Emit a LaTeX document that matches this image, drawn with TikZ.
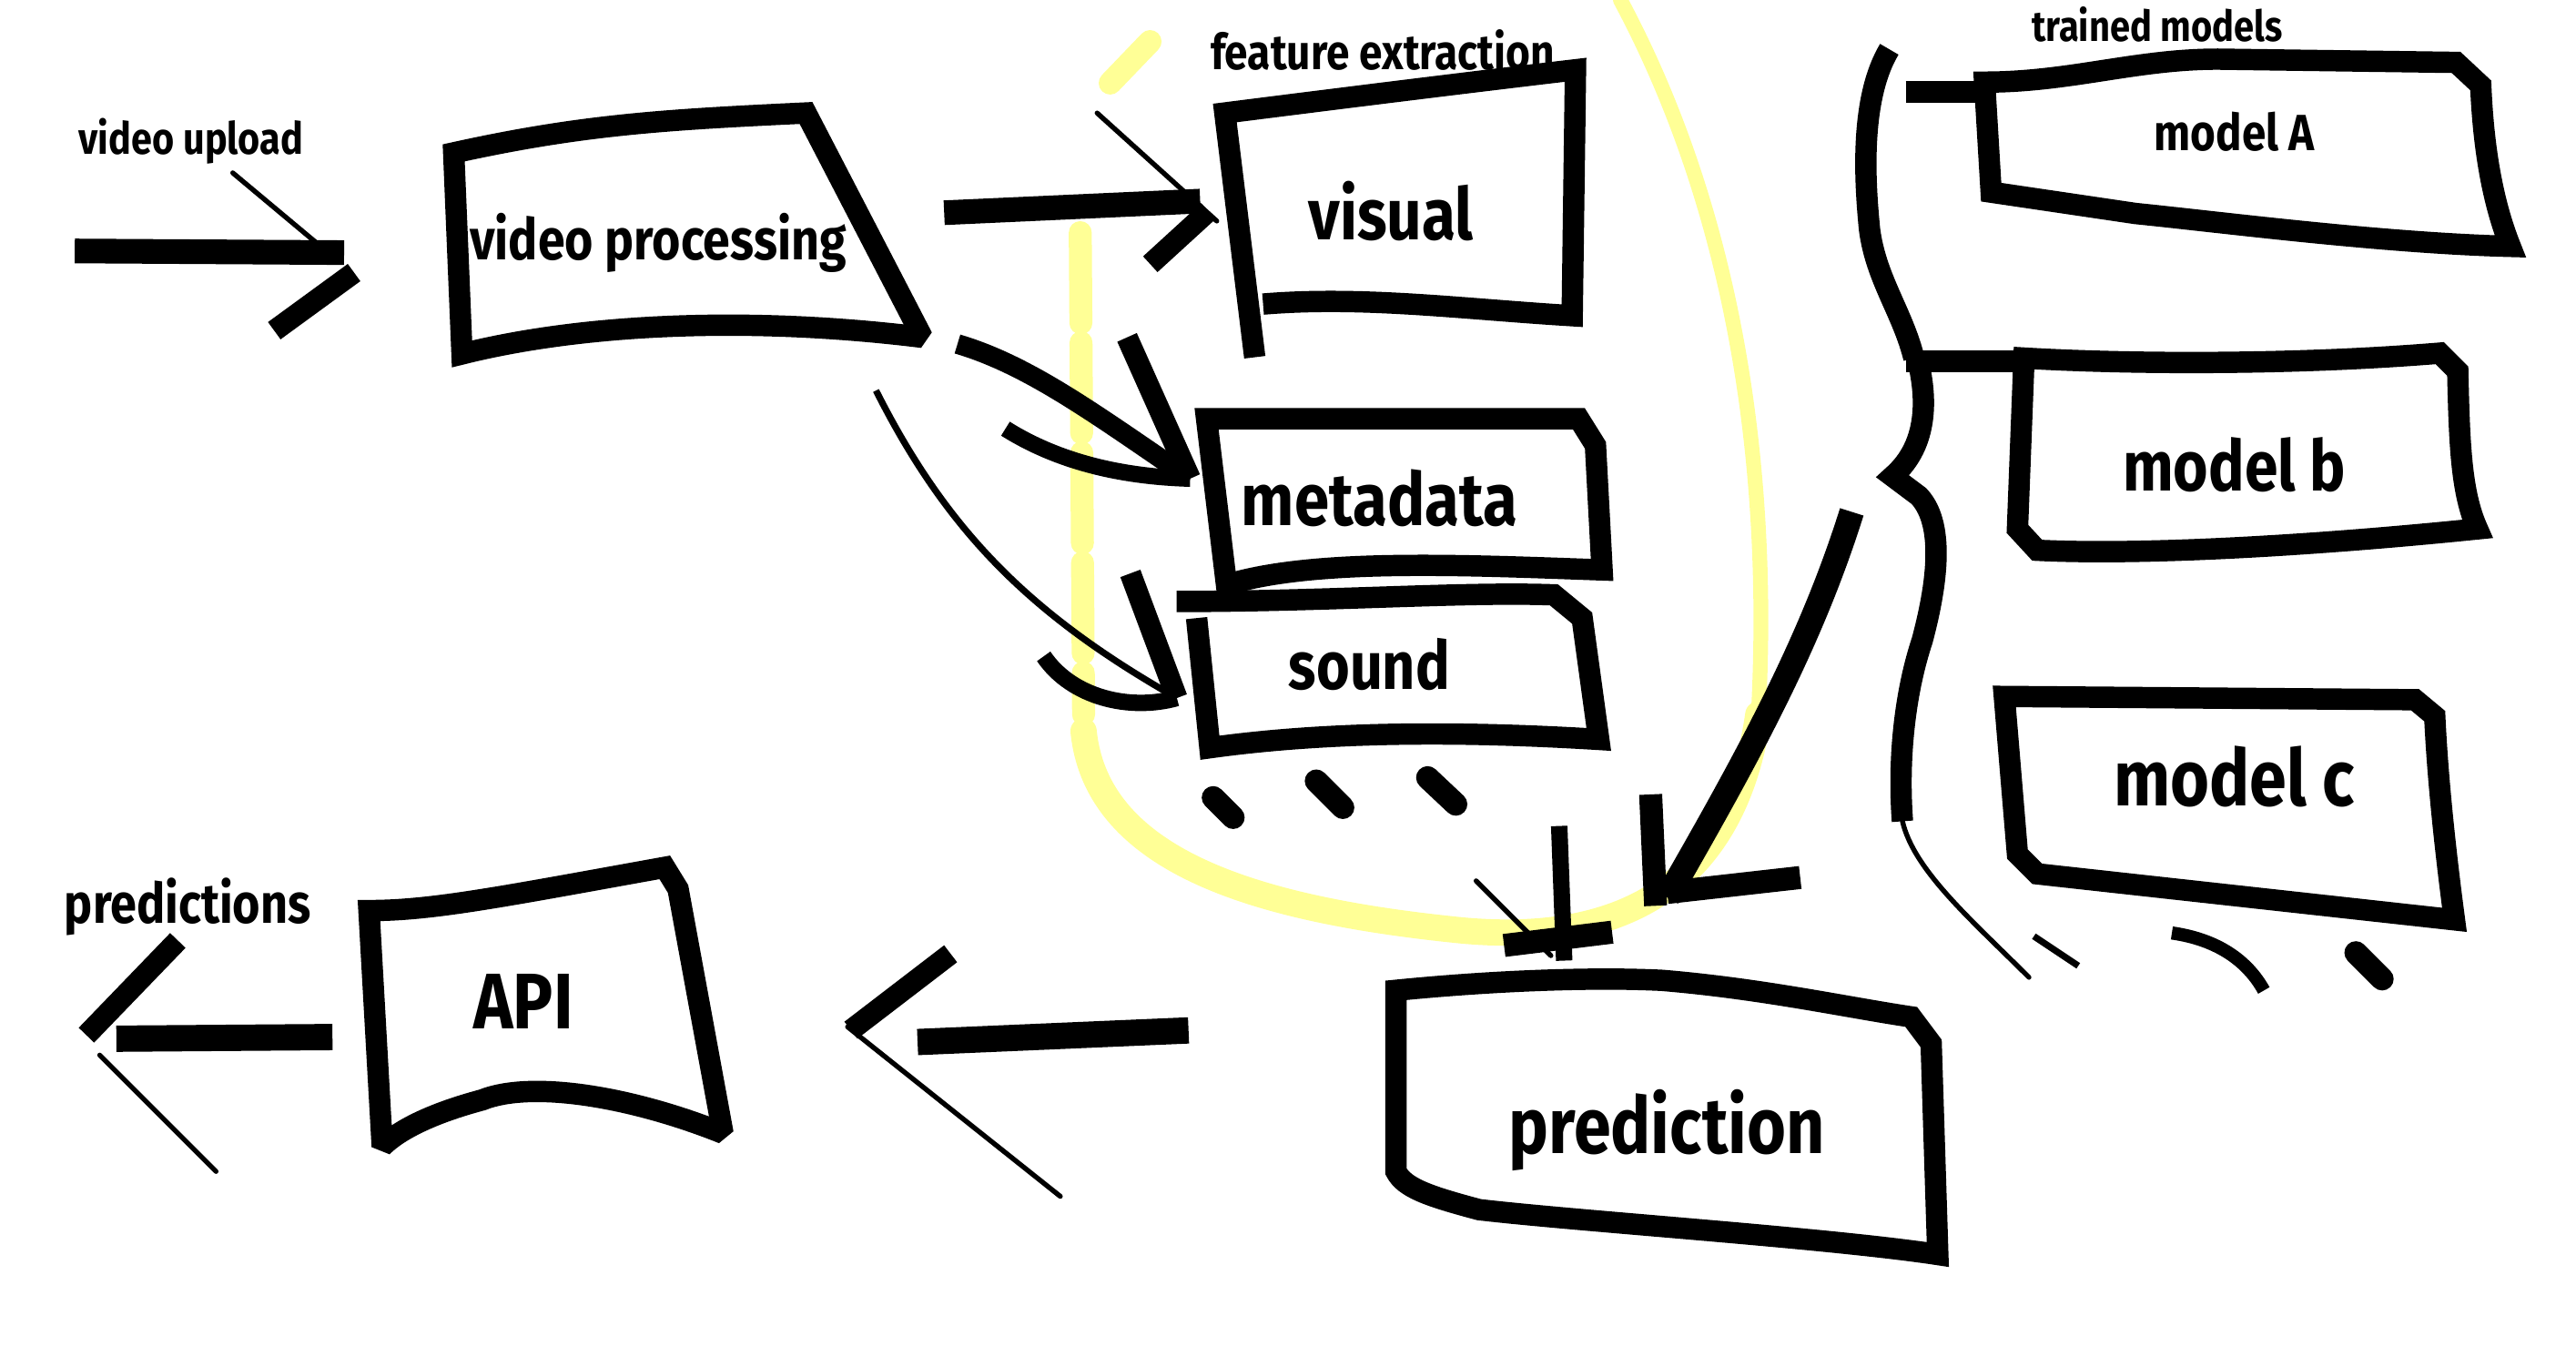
\documentclass[tikz,border=0pt]{standalone}
\usepackage{fontspec}
\setmainfont{Fira Sans}[FakeStretch=0.85]
\usetikzlibrary{calc}
\definecolor{highlight}{RGB}{255,255,150}
\tikzset{
  ink/.style={line width=13pt, line join=miter, miter limit=2},
  shaft/.style={line width=15pt},
  barb/.style={line width=13pt},
  hair/.style={line width=3pt, line cap=round},
  marker/.style={highlight, line width=14pt, line cap=round},
}
\newcommand{\namebox}[5]{%
\node[font=\bfseries\fontsize{#4}{#4}\selectfont, inner sep=0pt] (#1) at (#2,#3) {#5};
}
\newcommand{\inkdot}[4]{%
\draw[line width=14pt, line cap=round] (#1,#2) -- (#3,#4);
}

\begin{document}
\begin{tikzpicture}[x=1pt,y=-1pt]
\useasboundingbox (0,0) rectangle (1568,825);

\begin{scope}[scale=1.0116]
% yellow loop round the features
\draw[marker] (668,50) -- (692,25);
\draw[marker, dash pattern=on 55pt off 12pt] (650,140) -- (652,430);
\draw[marker, line width=16pt] (652,440) .. controls (660,520) and (760,548) .. (880,560) .. controls (990,570) and (1045,520) .. (1058,430);
\draw[marker, line width=9pt] (1058,430) .. controls (1065,300) and (1050,140) .. (975,0);

% labels
\namebox{upload}{115}{85}{27}{video upload}
\namebox{features}{832}{30}{30}{feature extraction}
\namebox{predictions}{113}{546}{34}{predictions}

% boxes
\draw[ink] (273,92) .. controls (350,75) and (400,72) .. (485,68) -- (555,203) .. controls (450,190) and (350,195) .. (278,213) -- cycle;
\namebox{vp}{396}{146}{35}{video processing}

\draw[ink] (755,215) -- (737,68) .. controls (800,60) and (880,50) .. (948,42) -- (946,190) .. controls (880,186) and (820,178) .. (760,183);
\namebox{visual}{837}{127}{44}{visual}

\draw[ink] (726,252) -- (950,252) -- (960,268) -- (964,343) .. controls (880,340) and (790,336) .. (738,352) -- cycle;
\namebox{metadata}{830}{300}{45}{metadata}

\draw[ink] (708,362) .. controls (800,362) and (880,356) .. (935,358) -- (952,372) -- (962,445) .. controls (880,440) and (800,440) .. (728,450) -- (720,372);
\namebox{sound}{824}{400}{41}{sound}

\inkdot{730}{480}{742}{492}
\inkdot{792}{470}{808}{486}
\inkdot{859}{468}{876}{484}

\draw[ink] (840,596) .. controls (900,590) and (960,588) .. (1000,590) .. controls (1060,595) and (1110,606) .. (1150,612) -- (1162,628) -- (1166,755) .. controls (1100,745) and (950,735) .. (890,728) .. controls (860,720) and (845,715) .. (840,705) -- cycle;
\namebox{prediction}{1003}{680}{48}{prediction}

\draw[ink] (222,548) .. controls (260,548) and (300,540) .. (400,522) -- (408,535) -- (435,682) .. controls (380,660) and (320,650) .. (290,662) .. controls (260,670) and (240,680) .. (230,690) -- cycle;
\namebox{api}{315}{603}{48}{API}

% arrows
\coordinate (inTail) at (45,151);
\coordinate (inTip) at (207,152);
\draw[shaft] (inTail) -- (inTip);
\draw[barb] (inTip) ++(6,12) -- ++(-48,35);
\draw[hair] (inTip) ++(-12,-2) -- ++(-55,-46);

\coordinate (vpOut) at (568,128);
\coordinate (visIn) at (722,121);
\draw[shaft] (vpOut) -- (visIn);
\draw[barb] (visIn) ++(5,6) -- ++(-35,32);
\draw[hair] (visIn) ++(10,12) -- ++(-72,-65);

\coordinate (vpOutB) at (576,207);
\coordinate (metaIn) at (716,288);
\draw[line width=12pt] (vpOutB) .. controls (620,220) and (660,250) .. (metaIn);
\draw[barb] (metaIn) -- ++(-38,-85);
\draw[line width=10pt] (metaIn) .. controls (680,287) and (640,280) .. (605,258);

\coordinate (vpOutC) at (527,235);
\coordinate (soundIn) at (708,420);
\draw[line width=4pt] (vpOutC) .. controls (570,320) and (620,370) .. (soundIn);
\draw[barb] (soundIn) -- ++(-28,-75);
\draw[line width=10pt] (soundIn) .. controls (680,428) and (645,420) .. (628,395);

\coordinate (featOut) at (938,497);
\coordinate (predIn) at (941,578);
\draw[line width=10pt] (featOut) -- (predIn);
\draw[hair] (predIn) ++(-8,-3) -- ++(-45,-45);
\draw[line width=14pt] (905,569) -- (970,561);

\coordinate (modelsOut) at (1114,308);
\coordinate (predInB) at (1003,540);
\draw[shaft] (modelsOut) .. controls (1090,385) and (1055,450) .. (predInB);
\draw[line width=14pt] (predInB) ++(-7,5) -- ++(-3,-67);
\draw[line width=14pt] (predInB) ++(0,-3) -- ++(80,-9);

\coordinate (predOut) at (715,620);
\coordinate (apiIn) at (552,627);
\draw[line width=16pt] (predOut) -- (apiIn);
\draw[barb] (572,574) -- (512,620);
\draw[hair] (510,618) -- (638,720);

\coordinate (apiOut) at (200,624);
\coordinate (outTip) at (70,625);
\draw[line width=16pt] (apiOut) -- (outTip);
\draw[barb] (107,566) -- (52,623);
\draw[hair] (60,635) -- (130,705);
\end{scope}

% trained models
\namebox{models}{1313}{15}{26}{trained models}

\draw[ink] (1208,50) .. controls (1260,50) and (1300,36) .. (1350,36) -- (1495,38) -- (1510,52) .. controls (1512,100) and (1520,130) .. (1528,150) .. controls (1450,148) and (1350,135) .. (1300,130) -- (1212,117) -- cycle;
\namebox{modelA}{1360}{80}{31}{model A}

\draw[ink] (1232,218) .. controls (1300,222) and (1400,222) .. (1485,215) -- (1496,226) .. controls (1497,270) and (1498,300) .. (1508,322) .. controls (1400,333) and (1300,338) .. (1240,335) -- (1228,322) -- cycle;
\namebox{modelB}{1360}{283}{43}{model b}

\draw[ink] (1220,424) -- (1470,426) -- (1482,436) .. controls (1484,480) and (1490,530) .. (1494,560) -- (1240,532) -- (1228,520) -- cycle;
\namebox{modelC}{1360}{473}{48}{model c}

% bracket of the models
\coordinate (brA) at (1160,56);
\coordinate (brB) at (1160,220);
\draw[ink] (1150,30) .. controls (1132,60) and (1135,110) .. (1138,140) .. controls (1142,170) and (1158,190) .. (1165,218);
\draw[ink] (1168,222) .. controls (1172,240) and (1175,270) .. (1152,290) -- (1168,302) .. controls (1185,320) and (1178,360) .. (1170,390) .. controls (1160,420) and (1155,460) .. (1158,500);
\draw[hair] (1158,500) .. controls (1165,530) and (1200,560) .. (1235,595);
\draw[ink] (brA) -- (1208,56);
\draw[ink] (brB) -- (1232,220);
\draw[line width=4pt] (1238,570) -- (1265,588);
\draw[line width=8pt] (1322,568) .. controls (1350,572) and (1368,585) .. (1378,603);
\inkdot{1434}{580}{1450}{596}

\end{tikzpicture}
\end{document}
